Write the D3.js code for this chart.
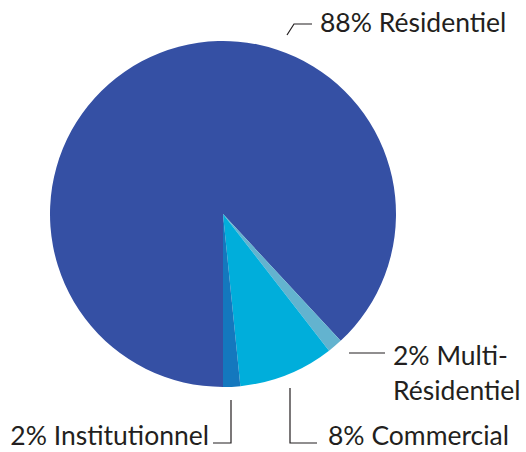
<!DOCTYPE html>
<html>
<head>
<meta charset="utf-8">
<script src="https://cdn.jsdelivr.net/npm/d3@7"></script>
<style>
  body { margin: 0; background: #fff; }
  text { font-family: Lato, "Open Sans", sans-serif; fill: #231f20; }
</style>
</head>
<body>
<script>
const categories = ['Résidentiel', 'Multi-Résidentiel', 'Commercial', 'Institutionnel'];
const values = [88.1, 1.4, 8.9, 1.6];
const pctLabels = ['88%', '2%', '8%', '2%'];
const colors = ['#3550a4', '#63b3cf', '#00aedb', '#1478be'];

const w = 526, h = 452;
const cx = 223, cy = 214, r = 173;

const svg = d3.select('body').
append('svg').
attr('width', w).
attr('height', h);

const pie = d3.pie().
sort(null).
startAngle(Math.PI).
endAngle(3 * Math.PI);

const arc = d3.arc().innerRadius(0).outerRadius(r);

const g = svg.append('g').attr('transform', 'translate(' + cx + ',' + cy + ')');

g.selectAll('path').
data(pie(values)).
enter().
append('path').
attr('d', arc).
attr('fill', (d, i) => colors[i]);

// labels with leader lines (placed around the pie)
const fs = 26.5;
const lines = svg.append('g').attr('stroke', '#231f20').attr('stroke-width', 1.2).attr('fill', 'none');
const labels = svg.append('g').style('font-size', fs + 'px');

// Résidentiel - top right
lines.append('path').attr('d', d3.line()([[cx + 64, cy - 179], [cx + 71, cy - 190], [cx + 89, cy - 190]]));
labels.append('text').attr('x', cx + 97).attr('y', cy - 182).text(pctLabels[0] + ' ' + categories[0]);

// Multi-Résidentiel - right
lines.append('path').attr('d', d3.line()([[cx + 126, cy + 139], [cx + 162, cy + 139]]));
labels.append('text').attr('x', cx + 170).attr('y', cy + 151).text(pctLabels[1] + ' Multi-');
labels.append('text').attr('x', cx + 170).attr('y', cy + 186).text('Résidentiel');

// Commercial - bottom right
lines.append('path').attr('d', d3.line()([[cx + 67, cy + 174], [cx + 67, cy + 229], [cx + 94, cy + 229]]));
labels.append('text').attr('x', cx + 105).attr('y', cy + 231).text(pctLabels[2] + ' ' + categories[2]);

// Institutionnel - bottom left
lines.append('path').attr('d', d3.line()([[cx + 8, cy + 186], [cx + 8, cy + 229], [cx - 10, cy + 229]]));
labels.append('text').attr('x', cx - 14).attr('y', cy + 231).attr('text-anchor', 'end').text(pctLabels[3] + ' ' + categories[3]);
</script>
</body>
</html>
